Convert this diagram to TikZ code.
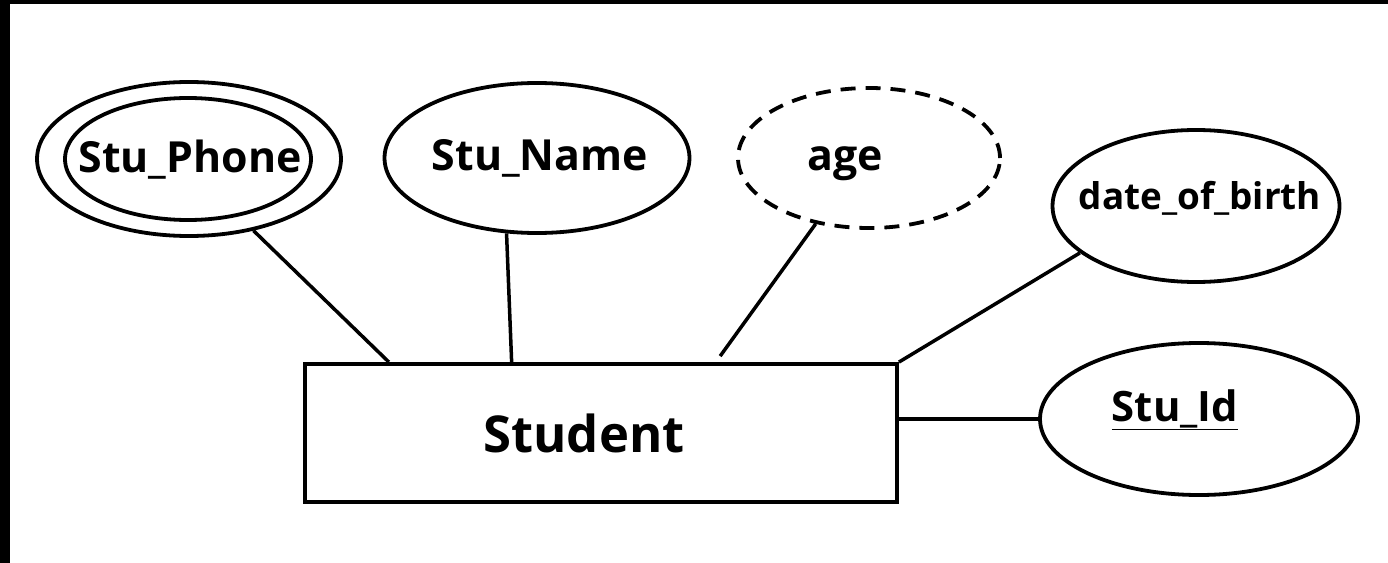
\documentclass[tikz,border=0pt]{standalone}
\usepackage{fontspec}
\setmainfont{Open Sans}
\usetikzlibrary{shapes.geometric,calc}
\begin{document}
\begin{tikzpicture}[x=1bp,y=-1bp,
  attr/.style={draw,ellipse,line width=3.8bp,inner sep=0pt},
  lbl/.style={inner sep=0pt,font=\bfseries\fontsize{#1}{#1}\selectfont},
  conn/.style={line width=3.5bp}]
\useasboundingbox (0,0) rectangle (1388,563);
\fill[white] (0,0) rectangle (1388,563);
\fill[black] (0,0) rectangle (1388,4);
\fill[black] (0,0) rectangle (10,563);
% entity
\node[draw,line width=3.8bp,minimum width=592bp,minimum height=138bp,inner sep=0pt] (student) at (601,433) {};
\node[lbl=51] (studentt) at (584,433) {Student};
% attributes
\node[attr,minimum width=304bp,minimum height=154bp] (phone) at (189,159) {};
\node[attr,minimum width=246bp,minimum height=122bp] (phonein) at (188,159) {};
\node[lbl=43] (phonet) at (190,160) {Stu\_Phone};
\node[attr,minimum width=305bp,minimum height=150bp] (name) at (537,158) {};
\node[lbl=43] (namet) at (540,158) {Stu\_Name};
\node[attr,dash pattern=on 15bp off 10bp,minimum width=262bp,minimum height=140bp] (age) at (869,158) {};
\node[lbl=43] (aget) at (845,164) {age};
\node[attr,minimum width=287bp,minimum height=152bp] (dob) at (1196,206) {};
\node[lbl=37] (dobt) at (1200,198) {date\_of\_birth};
\node[attr,minimum width=318bp,minimum height=152bp] (id) at (1199,419) {};
\node[lbl=42] (idt) at (1175,410) {\underline{Stu\_Id}};
% connectors
\draw[conn] (phone.-48) -- ($(student.north west)!0.144!(student.north east)$);
\draw[conn] (name.-112) -- ($(student.north west)!0.35!(student.north east)$);
\draw[conn] (age.-129) -- ($(student.north west)!0.70!(student.north east)+(0,-6)$);
\draw[conn] (dob.-158) -- (student.north east);
\draw[conn] (id.west) -- (id.west -| student.east);
\end{tikzpicture}
\end{document}
